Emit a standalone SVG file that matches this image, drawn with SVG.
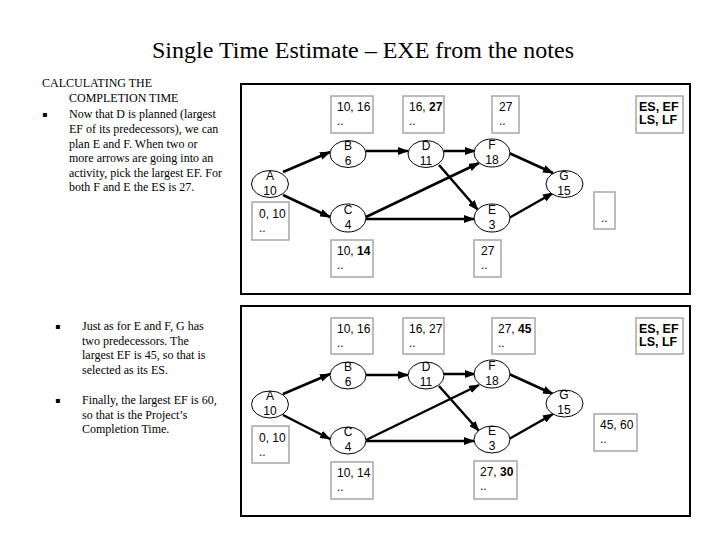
<svg xmlns="http://www.w3.org/2000/svg" width="720" height="540" viewBox="0 0 720 540">
<style>
.title{font-family:"Liberation Serif","Times New Roman",serif;font-size:24px;fill:#000}
.note{font-family:"Liberation Serif","Times New Roman",serif;font-size:12px;fill:#000}
.bul{font-family:"DejaVu Sans",sans-serif;font-size:8px;fill:#000}
.frame{fill:none;stroke:#000;stroke-width:2}
.node ellipse{fill:#fff;stroke:#000;stroke-width:1}
.node text{font-family:"Liberation Sans",Arial,sans-serif;font-size:12px;fill:#000;text-anchor:middle}
.box rect{fill:#fff;stroke:#a6a6a6;stroke-width:1.5}
.box text{font-family:"Liberation Sans",Arial,sans-serif;font-size:12px;fill:#000}
.box .b{font-weight:bold}
.legend text{font-weight:bold;font-size:12.5px}
.edge{stroke:#000;stroke-width:2.5;fill:none;marker-end:url(#ah)}
</style>
<defs>
<marker id="ah" markerUnits="userSpaceOnUse" markerWidth="11" markerHeight="8" refX="10" refY="4" orient="auto">
<path d="M0,0 L11,4 L0,8 z" fill="#000"/>
</marker>
</defs>
<rect width="720" height="540" fill="#fff"/>
<text class="title" x="363" y="58" text-anchor="middle">Single Time Estimate – EXE from the notes</text>

<g id="notes-top">
<text class="note" x="42" y="87">CALCULATING THE</text>
<text class="note" x="69" y="102">COMPLETION TIME</text>
<text class="bul" x="42" y="117">▪</text>
<text class="note" x="69" y="118">Now that D is planned (largest</text>
<text class="note" x="69" y="133">EF of its predecessors), we can</text>
<text class="note" x="69" y="148">plan E and F. When two or</text>
<text class="note" x="69" y="162">more arrows are going  into an</text>
<text class="note" x="69" y="177">activity, pick the largest EF. For</text>
<text class="note" x="69" y="191">both F and E the ES is 27.</text>
</g>
<g id="notes-bottom">
<text class="bul" x="55" y="329">▪</text>
<text class="note" x="82" y="330">Just as for E and F, G has</text>
<text class="note" x="82" y="344.5">two predecessors. The</text>
<text class="note" x="82" y="359">largest EF is 45, so that is</text>
<text class="note" x="82" y="373.5">selected as its ES.</text>
<text class="bul" x="55" y="403">▪</text>
<text class="note" x="82" y="404">Finally, the largest EF is 60,</text>
<text class="note" x="82" y="418.5">so that is the Project’s</text>
<text class="note" x="82" y="433">Completion Time.</text>
</g>

<rect class="frame" x="241" y="84" width="449" height="210"/>
<rect class="frame" x="241" y="306" width="449" height="210"/>

<g id="connectors">
<path class="edge" d="M283,172 L330,152"/>
<path class="edge" d="M283,195 L330,217"/>
<path class="edge" d="M366,151 L408,151"/>
<path class="edge" d="M444,151 L475,151"/>
<path class="edge" d="M439,165 L478,210"/>
<path class="edge" d="M366,217 L479,163"/>
<path class="edge" d="M366,219 L474,219"/>
<path class="edge" d="M509,153 L553,173"/>
<path class="edge" d="M509,218 L553,193"/>

<path class="edge" d="M283,394 L330,374"/>
<path class="edge" d="M283,415 L330,439"/>
<path class="edge" d="M366,375 L408,375"/>
<path class="edge" d="M444,374 L475,374"/>
<path class="edge" d="M439,386 L479,431"/>
<path class="edge" d="M366,440 L479,385"/>
<path class="edge" d="M366,441 L474,441"/>
<path class="edge" d="M509,374 L553,394"/>
<path class="edge" d="M509,439 L553,414"/>
</g>

<g id="t-A" class="node"><ellipse cx="270" cy="184" rx="18.5" ry="13.5"/><text x="270" y="180">A</text><text x="270" y="195">10</text></g>
<g id="t-B" class="node"><ellipse cx="348" cy="154" rx="18" ry="13.5"/><text x="348" y="150">B</text><text x="348" y="165">6</text></g>
<g id="t-C" class="node"><ellipse cx="348" cy="218" rx="18" ry="14"/><text x="348" y="214">C</text><text x="348" y="229">4</text></g>
<g id="t-D" class="node"><ellipse cx="426" cy="154" rx="18" ry="13.5"/><text x="426" y="150">D</text><text x="426" y="165">11</text></g>
<g id="t-F" class="node"><ellipse cx="492" cy="153" rx="18" ry="14"/><text x="492" y="149">F</text><text x="492" y="164">18</text></g>
<g id="t-E" class="node"><ellipse cx="492" cy="218" rx="18" ry="14"/><text x="492" y="214">E</text><text x="492" y="229">3</text></g>
<g id="t-G" class="node"><ellipse cx="564.5" cy="184" rx="18.5" ry="13.5"/><text x="564" y="180">G</text><text x="564" y="195">15</text></g>

<g id="t-box-B" class="box"><rect x="331" y="96" width="42" height="37"/><text x="337" y="111">10, 16</text><text x="337" y="125">..</text></g>
<g id="t-box-D" class="box"><rect x="403" y="96" width="41" height="37"/><text x="409" y="111">16, <tspan class="b">27</tspan></text><text x="409" y="125">..</text></g>
<g id="t-box-F" class="box"><rect x="492" y="96" width="27" height="37"/><text x="499" y="111">27</text><text x="499" y="125">..</text></g>
<g id="t-legend" class="box legend"><rect x="636" y="96" width="47" height="37"/><text x="639" y="111">ES, EF</text><text x="639" y="124">LS, LF</text></g>
<g id="t-box-A" class="box"><rect x="252" y="202" width="37" height="38"/><text x="259" y="218">0, 10</text><text x="259" y="232">..</text></g>
<g id="t-box-C" class="box"><rect x="331" y="240" width="42" height="37"/><text x="337" y="255">10, <tspan class="b">14</tspan></text><text x="337" y="269">..</text></g>
<g id="t-box-E" class="box"><rect x="474" y="240" width="27" height="37"/><text x="481" y="255">27</text><text x="481" y="269">..</text></g>
<g id="t-box-G" class="box"><rect x="594" y="192" width="21" height="37"/><text x="601" y="222">..</text></g>

<g id="b-A" class="node"><ellipse cx="270" cy="404.5" rx="18.5" ry="13.5"/><text x="270" y="400">A</text><text x="270" y="415">10</text></g>
<g id="b-B" class="node"><ellipse cx="348" cy="375.5" rx="18" ry="13.5"/><text x="348" y="371">B</text><text x="348" y="386">6</text></g>
<g id="b-C" class="node"><ellipse cx="348" cy="440.5" rx="18" ry="13.5"/><text x="348" y="436">C</text><text x="348" y="451">4</text></g>
<g id="b-D" class="node"><ellipse cx="426" cy="375.5" rx="18" ry="13.5"/><text x="426" y="371">D</text><text x="426" y="386">11</text></g>
<g id="b-F" class="node"><ellipse cx="492" cy="374" rx="18" ry="14"/><text x="492" y="370">F</text><text x="492" y="385">18</text></g>
<g id="b-E" class="node"><ellipse cx="492" cy="439.5" rx="18" ry="13.5"/><text x="492" y="435">E</text><text x="492" y="450">3</text></g>
<g id="b-G" class="node"><ellipse cx="564.5" cy="403.5" rx="18.5" ry="13.5"/><text x="564" y="399">G</text><text x="564" y="414">15</text></g>

<g id="b-box-B" class="box"><rect x="331" y="318" width="42" height="36"/><text x="337" y="333">10, 16</text><text x="337" y="347">..</text></g>
<g id="b-box-D" class="box"><rect x="403" y="318" width="41" height="36"/><text x="409" y="333">16, 27</text><text x="409" y="347">..</text></g>
<g id="b-box-F" class="box"><rect x="492" y="318" width="43" height="36"/><text x="498" y="333">27, <tspan class="b">45</tspan></text><text x="498" y="347">..</text></g>
<g id="b-legend" class="box legend"><rect x="636" y="318" width="47" height="36"/><text x="639" y="333">ES, EF</text><text x="639" y="346">LS, LF</text></g>
<g id="b-box-A" class="box"><rect x="252" y="426" width="37" height="37"/><text x="259" y="442">0, 10</text><text x="259" y="456">..</text></g>
<g id="b-box-C" class="box"><rect x="331" y="462" width="42" height="37"/><text x="337" y="477">10, 14</text><text x="337" y="491">..</text></g>
<g id="b-box-E" class="box"><rect x="474" y="461" width="43" height="38"/><text x="480" y="476">27, <tspan class="b">30</tspan></text><text x="480" y="490">..</text></g>
<g id="b-box-G" class="box"><rect x="594" y="414" width="43" height="37"/><text x="600" y="429">45, 60</text><text x="600" y="443">..</text></g>
</svg>
